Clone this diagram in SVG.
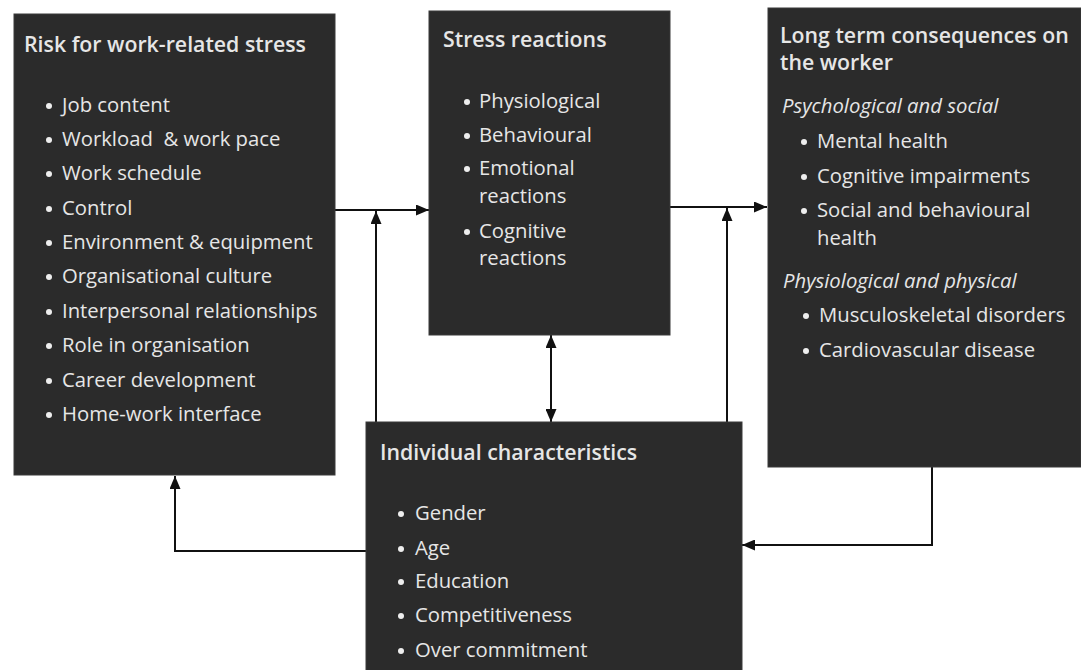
<svg xmlns="http://www.w3.org/2000/svg" width="1081" height="670" viewBox="0 0 1081 670">
<defs>
<style>
.box{fill:#2b2b2b;stroke:#3a3a3a;stroke-width:1}
.t{font-family:"Open Sans","Noto Sans","Liberation Sans",sans-serif;fill:#e6e6e6;font-size:20.3px}
.h{font-weight:600;font-size:21.3px}
.i{font-style:italic}
.dot{fill:#eeeeee}
.ln{fill:none;stroke:#111;stroke-width:2}
</style>
<marker id="ah" viewBox="0 0 13 11" refX="13" refY="5.5" markerWidth="13" markerHeight="11" markerUnits="userSpaceOnUse" orient="auto-start-reverse">
<path d="M0,0 L13,5.5 L0,11 Z" fill="#111"/>
</marker>
</defs>
<rect width="1081" height="670" fill="#ffffff"/>

<g id="connectors">
<line class="ln" x1="335" y1="210" x2="429" y2="210" marker-end="url(#ah)"/>
<line class="ln" x1="376" y1="422" x2="376" y2="211" marker-end="url(#ah)"/>
<line class="ln" x1="670" y1="207" x2="767" y2="207" marker-end="url(#ah)"/>
<line class="ln" x1="727" y1="422" x2="727" y2="208" marker-end="url(#ah)"/>
<line class="ln" x1="551" y1="335" x2="551" y2="422" marker-start="url(#ah)" marker-end="url(#ah)"/>
<polyline class="ln" points="366,551 175,551 175,476" marker-end="url(#ah)"/>
<polyline class="ln" points="932,467 932,545 742,545" marker-end="url(#ah)"/>
</g>

<g id="risk">
<rect class="box" x="14" y="14" width="321" height="461"/>
<text class="t h" x="24" y="52">Risk for work-related stress</text>
<g class="t">
<text x="62" y="112">Job content</text>
<text x="62" y="146" xml:space="preserve">Workload  &amp; work pace</text>
<text x="62" y="180">Work schedule</text>
<text x="62" y="215">Control</text>
<text x="62" y="249">Environment &amp; equipment</text>
<text x="62" y="283">Organisational culture</text>
<text x="62" y="318">Interpersonal relationships</text>
<text x="62" y="352">Role in organisation</text>
<text x="62" y="387">Career development</text>
<text x="62" y="421">Home-work interface</text>
</g>
<g class="dot">
<circle cx="49" cy="106" r="3"/><circle cx="49" cy="140" r="3"/><circle cx="49" cy="174" r="3"/><circle cx="49" cy="209" r="3"/><circle cx="49" cy="243" r="3"/><circle cx="49" cy="277" r="3"/><circle cx="49" cy="312" r="3"/><circle cx="49" cy="346" r="3"/><circle cx="49" cy="381" r="3"/><circle cx="49" cy="415" r="3"/>
</g>
</g>

<g id="stress">
<rect class="box" x="429" y="11" width="241" height="324"/>
<text class="t h" x="443" y="47">Stress reactions</text>
<g class="t">
<text x="479" y="108">Physiological</text>
<text x="479" y="142">Behavioural</text>
<text x="479" y="175">Emotional</text>
<text x="479" y="203">reactions</text>
<text x="479" y="238">Cognitive</text>
<text x="479" y="265">reactions</text>
</g>
<g class="dot">
<circle cx="467" cy="102" r="3"/><circle cx="467" cy="136" r="3"/><circle cx="467" cy="169" r="3"/><circle cx="467" cy="232" r="3"/>
</g>
</g>

<g id="consequences">
<rect class="box" x="768" y="8" width="313" height="459"/>
<text class="t h" x="780" y="43">Long term consequences on</text>
<text class="t h" x="780" y="70">the worker</text>
<text class="t i" x="782" y="113">Psychological and social</text>
<g class="t">
<text x="817" y="148">Mental health</text>
<text x="817" y="183">Cognitive impairments</text>
<text x="817" y="217">Social and behavioural</text>
<text x="817" y="245">health</text>
</g>
<text class="t i" x="783" y="288">Physiological and physical</text>
<g class="t">
<text x="819" y="322">Musculoskeletal disorders</text>
<text x="819" y="357">Cardiovascular disease</text>
</g>
<g class="dot">
<circle cx="804" cy="142" r="3"/><circle cx="804" cy="177" r="3"/><circle cx="804" cy="211" r="3"/><circle cx="806" cy="316" r="3"/><circle cx="806" cy="351" r="3"/>
</g>
</g>

<g id="individual">
<rect class="box" x="366" y="422" width="376" height="260"/>
<text class="t h" x="380" y="460">Individual characteristics</text>
<g class="t">
<text x="415" y="520">Gender</text>
<text x="415" y="555">Age</text>
<text x="415" y="588">Education</text>
<text x="415" y="622">Competitiveness</text>
<text x="415" y="657">Over commitment</text>
</g>
<g class="dot">
<circle cx="401" cy="514" r="3"/><circle cx="401" cy="549" r="3"/><circle cx="401" cy="582" r="3"/><circle cx="401" cy="616" r="3"/><circle cx="401" cy="651" r="3"/>
</g>
</g>
</svg>
